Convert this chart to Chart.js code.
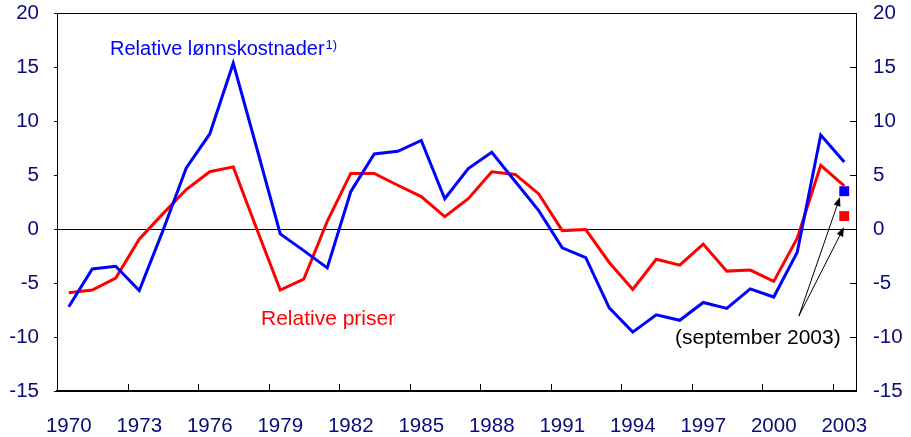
<!DOCTYPE html>
<html lang="no">
<head>
  <meta charset="UTF-8">
  <title>Relative lønnskostnader og relative priser</title>
  <script src="https://cdn.jsdelivr.net/npm/chart.js"></script>
  <style>
    body { margin: 0; background: #fff; }
    #boks { width: 911px; height: 437px; position: relative; }
  </style>
</head>
<body>
  <div id="boks"><canvas id="grafLonn"></canvas></div>

  <script>
    const aar = ['1970', '1971', '1972', '1973', '1974', '1975', '1976', '1977', '1978', '1979',
      '1980', '1981', '1982', '1983', '1984', '1985', '1986', '1987', '1988', '1989',
      '1990', '1991', '1992', '1993', '1994', '1995', '1996', '1997', '1998', '1999',
      '2000', '2001', '2002', '2003'];

    const lonnskostnader = [-7.2, -3.7, -3.45, -5.7, -0.2, 5.65, 8.8, 15.35, 7.5, -0.45,
      -2.0, -3.6, 3.45, 6.95, 7.2, 8.2, 2.8, 5.6, 7.1, 4.4,
      1.7, -1.75, -2.65, -7.3, -9.55, -7.95, -8.45, -6.8, -7.35, -5.55,
      -6.3, -2.15, 8.7, 6.2];

    const priser = [-5.9, -5.65, -4.55, -0.95, 1.4, 3.65, 5.3, 5.75, 0.0, -5.65,
      -4.65, 0.7, 5.15, 5.15, 4.05, 3.0, 1.15, 2.8, 5.3, 5.05,
      3.25, -0.15, -0.05, -3.1, -5.6, -2.8, -3.35, -1.4, -3.9, -3.8,
      -4.85, -0.85, 5.9, 4.0];

    // september 2003, vist som firkant i siste år
    const septLonn = 3.5;
    const septPriser = 1.2;

    const yTicks = [-15, -10, -5, 0, 5, 10, 15, 20];

    const sistePunkt = v => aar.map((a, i) => i === aar.length - 1 ? v : null);

    const navy = '#0a0a7a';
    Chart.defaults.font.family = '"Liberation Sans", Arial, sans-serif';

    // tekster og piler plassert i dataverdier (indeks på x, verdi på y)
    const tekster = [
      { tekst: 'Relative lønnskostnader', sup: '1)', x: 1.755, y: 16.1, farge: '#0000ff', size: 20, align: 'left' },
      { tekst: 'Relative priser', x: 8.18, y: -8.9, farge: '#ff0000', size: 21, align: 'left' },
      { tekst: '(september 2003)', x: 32.85, y: -10.65, farge: '#000000', size: 21, align: 'right' }
    ];
    const piler = [
      { fra: [31.07, -8.05], til: [32.82, 2.96] },
      { fra: [31.07, -8.05], til: [32.99, 0.16] }
    ];

    const nullPadding = s => { s.paddingTop = 0; s.paddingBottom = 0; s.paddingLeft = 0; s.paddingRight = 0; };

    const ekstra = {
      id: 'ekstra',
      afterDraw(chart) {
        const { ctx, chartArea: a } = chart;
        const x = chart.scales.x, y = chart.scales.y, y2 = chart.scales.y2;
        ctx.save();
        ctx.strokeStyle = '#000';
        ctx.lineWidth = 1;

        // tickmerker inn i plottet langs x-aksen
        for (let i = 3; i < aar.length; i += 3) {
          const px = Math.round((x.getPixelForValue(i - 1) + x.getPixelForValue(i)) / 2) + 0.5;
          ctx.beginPath();
          ctx.moveTo(px, a.bottom);
          ctx.lineTo(px, a.bottom - 7);
          ctx.stroke();
        }
        // tickmerker inn fra høyre akse
        yTicks.forEach(v => {
          const py = Math.round(y2.getPixelForValue(v)) + 0.5;
          ctx.beginPath();
          ctx.moveTo(a.right - 6, py);
          ctx.lineTo(a.right, py);
          ctx.stroke();
        });

        // piler
        piler.forEach(p => {
          const x0 = x.getPixelForValue(p.fra[0]), y0 = y.getPixelForValue(p.fra[1]);
          const x1 = x.getPixelForValue(p.til[0]), y1 = y.getPixelForValue(p.til[1]);
          const ang = Math.atan2(y1 - y0, x1 - x0);
          ctx.beginPath();
          ctx.moveTo(x0, y0);
          ctx.lineTo(x1 - 7 * Math.cos(ang), y1 - 7 * Math.sin(ang));
          ctx.stroke();
          ctx.fillStyle = '#000';
          ctx.beginPath();
          ctx.moveTo(x1, y1);
          ctx.lineTo(x1 - 9 * Math.cos(ang) + 3.5 * Math.sin(ang), y1 - 9 * Math.sin(ang) - 3.5 * Math.cos(ang));
          ctx.lineTo(x1 - 9 * Math.cos(ang) - 3.5 * Math.sin(ang), y1 - 9 * Math.sin(ang) + 3.5 * Math.cos(ang));
          ctx.closePath();
          ctx.fill();
        });

        // tekster
        ctx.textBaseline = 'alphabetic';
        tekster.forEach(t => {
          const px = x.getPixelForValue(t.x), py = y.getPixelForValue(t.y);
          ctx.fillStyle = t.farge;
          ctx.textAlign = t.align;
          ctx.font = t.size + 'px "Liberation Sans", Arial, sans-serif';
          ctx.fillText(t.tekst, px, py);
          if (t.sup) {
            const w = ctx.measureText(t.tekst).width;
            ctx.textAlign = 'left';
            ctx.font = '13px "Liberation Sans", Arial, sans-serif';
            ctx.fillText(t.sup, px + w + 1, py - 6);
          }
        });
        ctx.restore();
      }
    };

    new Chart(document.getElementById('grafLonn'), {
      type: 'line',
      data: {
        labels: aar,
        datasets: [
          {
            label: 'Relative lønnskostnader',
            data: lonnskostnader,
            borderColor: '#0000ff',
            borderWidth: 3,
            pointRadius: 0,
            tension: 0,
            yAxisID: 'y'
          },
          {
            label: 'Relative priser',
            data: priser,
            borderColor: '#ff0000',
            borderWidth: 3,
            pointRadius: 0,
            tension: 0,
            yAxisID: 'y'
          },
          {
            label: 'Lønnskostnader sept 2003',
            data: sistePunkt(septLonn),
            showLine: false,
            pointStyle: 'rect',
            pointRadius: 7,
            backgroundColor: '#0000ff',
            borderColor: '#0000ff',
            borderWidth: 0,
            yAxisID: 'y'
          },
          {
            label: 'Priser sept 2003',
            data: sistePunkt(septPriser),
            showLine: false,
            pointStyle: 'rect',
            pointRadius: 7,
            backgroundColor: '#ff0000',
            borderColor: '#ff0000',
            borderWidth: 0,
            yAxisID: 'y'
          }
        ]
      },
      options: {
        responsive: true,
        maintainAspectRatio: false,
        animation: false,
        layout: { padding: { top: 13, left: 0, right: 0, bottom: 0 } },
        plugins: {
          legend: { display: false },
          tooltip: { enabled: false }
        },
        scales: {
          x: {
            type: 'category',
            offset: true,
            afterFit: s => { s.height = 46; nullPadding(s); },
            grid: { display: false, offset: true },
            border: { display: true, color: '#000', width: 2 },
            ticks: {
              autoSkip: false,
              maxRotation: 0,
              padding: 15,
              color: navy,
              font: { size: 20.5 },
              callback: (v, i) => i % 3 === 0 ? aar[i] : ''
            }
          },
          y: {
            position: 'left',
            min: -15,
            max: 20,
            afterFit: s => { s.width = 57; nullPadding(s); },
            afterBuildTicks: s => { s.ticks = yTicks.map(v => ({ value: v })); },
            grid: {
              color: c => (c.tick && (c.tick.value === 0 || c.tick.value === 20)) ? '#000' : 'rgba(0,0,0,0)',
              tickColor: '#000',
              tickLength: 3,
              lineWidth: 1
            },
            border: { display: true, color: '#000', width: 1 },
            ticks: { padding: 15, color: navy, font: { size: 20.5 } }
          },
          y2: {
            position: 'right',
            min: -15,
            max: 20,
            afterFit: s => { s.width = 55; nullPadding(s); },
            afterBuildTicks: s => { s.ticks = yTicks.map(v => ({ value: v })); },
            grid: { display: false },
            border: { display: true, color: '#000', width: 1 },
            ticks: { padding: 9, color: navy, font: { size: 20.5 } }
          }
        }
      },
      plugins: [ekstra]
    });
  </script>
</body>
</html>
